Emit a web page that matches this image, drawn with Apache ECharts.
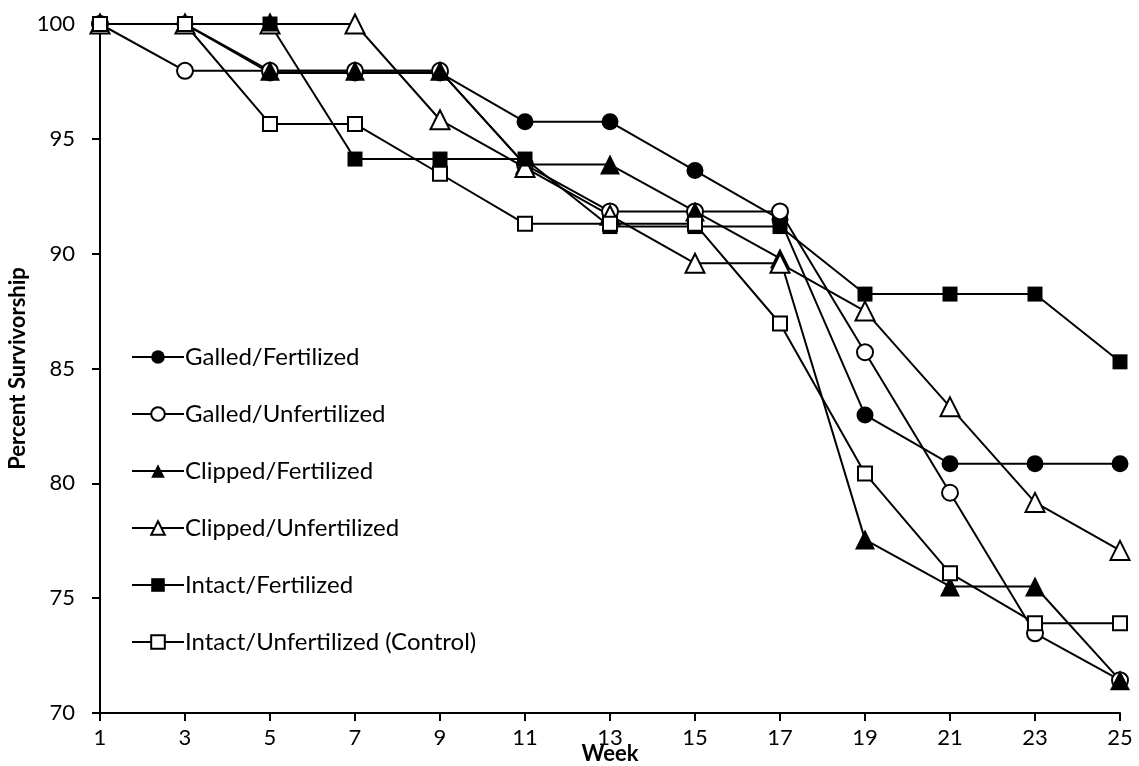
<!DOCTYPE html>
<html>
<head>
<meta charset="utf-8">
<title>Percent Survivorship by Week</title>
<script src="https://cdn.jsdelivr.net/npm/echarts@6/dist/echarts.min.js"></script>
<style>
  html, body { margin: 0; padding: 0; background: #fff; }
  #chart { width: 1139px; height: 766px; }
</style>
</head>
<body>
<div id="chart"></div>
<script>
// Weeks of observation
const weeks = ['1', '3', '5', '7', '9', '11', '13', '15', '17', '19', '21', '23', '25'];

// Percent survivorship per treatment
const galledFertilized   = [100, 100, 97.87, 97.87, 97.87, 95.74, 95.74, 93.62, 91.49, 82.98, 80.85, 80.85, 80.85];
const galledUnfertilized = [100, 97.96, 97.96, 97.96, 97.96, 93.88, 91.84, 91.84, 91.84, 85.71, 79.59, 73.47, 71.43];
const clippedFertilized  = [100, 100, 97.96, 97.96, 97.96, 93.88, 93.88, 91.84, 89.80, 77.55, 75.51, 75.51, 71.43];
const clippedUnfertilized = [100, 100, 100, 100, 95.83, 93.75, 91.67, 89.58, 89.58, 87.50, 83.33, 79.17, 77.08];
const intactFertilized   = [100, 100, 100, 94.12, 94.12, 94.12, 91.18, 91.18, 91.18, 88.24, 88.24, 88.24, 85.29];
const intactUnfertilized = [100, 100, 95.65, 95.65, 93.48, 91.30, 91.30, 91.30, 86.96, 80.43, 76.09, 73.91, 73.91];

const yTicks = { min: 70, max: 100, step: 5 };

const FONT = 'Lato, "Open Sans", sans-serif';

function makeSeries(name, data, symbol, filled, size) {
  return {
    name: name,
    type: 'line',
    data: data,
    symbol: symbol,
    symbolSize: size,
    showAllSymbol: true,
    lineStyle: { color: '#000', width: 2 },
    itemStyle: {
      color: filled ? '#000' : '#fff',
      borderColor: '#000',
      borderWidth: filled ? 0 : 2
    },
    emphasis: { disabled: true },
    animation: false
  };
}

const chart = echarts.init(document.getElementById('chart'), null, { renderer: 'canvas' });

chart.setOption({
  backgroundColor: '#fff',
  animation: false,
  textStyle: { fontFamily: FONT },
  grid: { left: 100, right: 19, top: 24, bottom: 53, containLabel: false, outerBoundsMode: 'none' },
  legend: {
    orient: 'vertical',
    left: 126,
    top: 340,
    itemWidth: 52,
    itemHeight: 17,
    itemGap: 33,
    textStyle: { fontSize: 24, lineHeight: 24, color: '#000', fontFamily: FONT, padding: [0, 0, 0, -4] },
    data: [
      'Galled/Fertilized',
      'Galled/Unfertilized',
      'Clipped/Fertilized',
      'Clipped/Unfertilized',
      'Intact/Fertilized',
      'Intact/Unfertilized (Control)'
    ]
  },
  xAxis: {
    type: 'category',
    data: weeks,
    boundaryGap: false,
    name: 'Week',
    nameLocation: 'middle',
    nameGap: 30,
    nameMoveOverlap: false,
    nameTextStyle: { fontSize: 22, fontWeight: 'bold', color: '#000', fontFamily: FONT },
    axisLine: { lineStyle: { color: '#000', width: 2 } },
    axisTick: { show: true, length: 8, lineStyle: { color: '#000', width: 2 }, alignWithLabel: true },
    axisLabel: { fontSize: 22, color: '#000', margin: 14, fontFamily: FONT },
    splitLine: { show: false }
  },
  yAxis: {
    type: 'value',
    min: yTicks.min,
    max: yTicks.max,
    interval: yTicks.step,
    name: 'Percent Survivorship',
    nameLocation: 'middle',
    nameGap: 71,
    nameMoveOverlap: false,
    nameRotate: 90,
    nameTextStyle: { fontSize: 22, fontWeight: 'bold', color: '#000', fontFamily: FONT },
    axisLine: { show: true, lineStyle: { color: '#000', width: 2 } },
    axisTick: { show: true, length: 8, inside: false, lineStyle: { color: '#000', width: 2 } },
    axisLabel: { fontSize: 22, color: '#000', margin: 25, fontFamily: FONT },
    splitLine: { show: false }
  },
  series: [
    makeSeries('Galled/Fertilized', galledFertilized, 'circle', true, 17),
    makeSeries('Galled/Unfertilized', galledUnfertilized, 'circle', false, 16),
    makeSeries('Clipped/Fertilized', clippedFertilized, 'triangle', true, 20),
    makeSeries('Clipped/Unfertilized', clippedUnfertilized, 'triangle', false, 19),
    makeSeries('Intact/Fertilized', intactFertilized, 'rect', true, 15),
    makeSeries('Intact/Unfertilized (Control)', intactUnfertilized, 'rect', false, 14)
  ]
});
</script>
</body>
</html>
